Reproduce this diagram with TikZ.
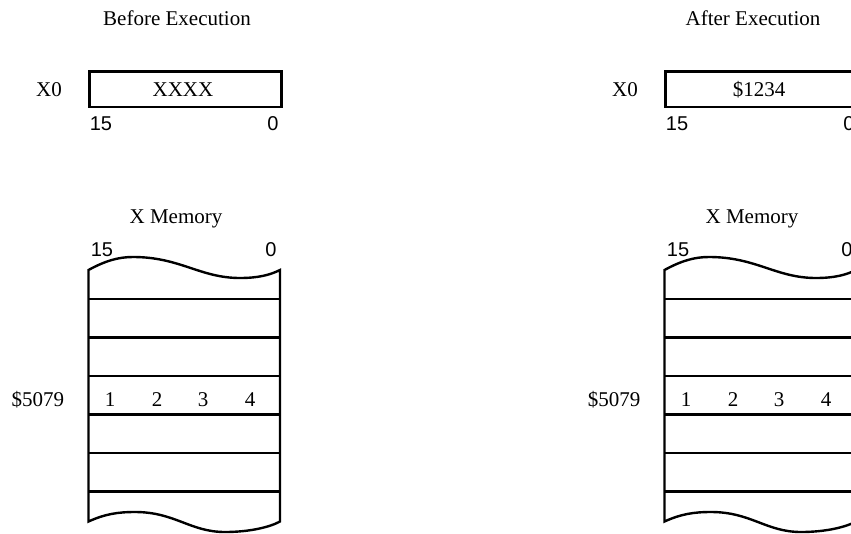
\documentclass[tikz,border=0pt]{standalone}
\usepackage{fontspec}
\setmainfont{Liberation Serif}
\newfontfamily\labelsans{Liberation Sans}
\tikzset{
  serif/.style={font=\fontsize{21}{25}\selectfont, anchor=base, inner sep=0pt},
  bitnum/.style={font=\labelsans\fontsize{20}{24}\selectfont, anchor=base, inner sep=0pt},
  regbox/.style={draw, line width=2.4pt, minimum width=192pt, minimum height=35.5pt, inner sep=0pt},
  memline/.style={line width=2.4pt, line join=miter}
}
\newcommand\drawpanel[4]{%
\begin{scope}[shift={(#1,0)}]
  \node[serif] (#2title) at (177,25) {#3};
  \node[serif] (#2xlab) at (49,96.7) {X0};
  \node[regbox] (#2reg) at (185.5,89.25) {};
  \node[serif] (#2val) at (183,96.7) {#4};
  \node[bitnum] (#2regmsb) at (101,130.7) {15};
  \node[bitnum] (#2reglsb) at (273,130.7) {0};
  \node[serif] (#2memtitle) at (176,223) {X Memory};
  \node[bitnum] (#2memmsb) at (102,256) {15};
  \node[bitnum] (#2memlsb) at (271,256) {0};
  \coordinate (#2tl) at (88.5,270);
  \coordinate (#2tr) at (280,270);
  \coordinate (#2bl) at (88.5,521.5);
  \coordinate (#2br) at (280,521.5);
  \draw[memline] (#2bl) -- (#2tl)
     .. controls (105,261) and (118,257) .. (133,257)
     .. controls (180,257) and (200,278) .. (240,278)
     .. controls (258,278) and (270,275) .. (#2tr)
     -- (#2br)
     .. controls (270,527) and (250,532) .. (225,532)
     .. controls (190,532) and (175,512) .. (135,512)
     .. controls (118,512) and (105,514) .. (#2bl) -- cycle;
  \foreach \yy in {299,337.5,376,414.5,453,491.5}
    \draw[memline] (88.5,\yy) -- (280,\yy);
  \node[serif] (#2addr) at (38,406) {\$5079};
  \node[serif] (#2da) at (110,406) {1};
  \node[serif] (#2db) at (157,406) {2};
  \node[serif] (#2dc) at (203,406) {3};
  \node[serif] (#2dd) at (250,406) {4};
\end{scope}}
\begin{document}
\begin{tikzpicture}[x=1pt,y=-1pt]
  \useasboundingbox (0,0) rectangle (851,533);
  \clip (0,0) rectangle (851,533);
  \drawpanel{0}{L}{Before Execution}{XXXX}
  \drawpanel{576}{R}{After Execution}{\$1234}
\end{tikzpicture}
\end{document}
